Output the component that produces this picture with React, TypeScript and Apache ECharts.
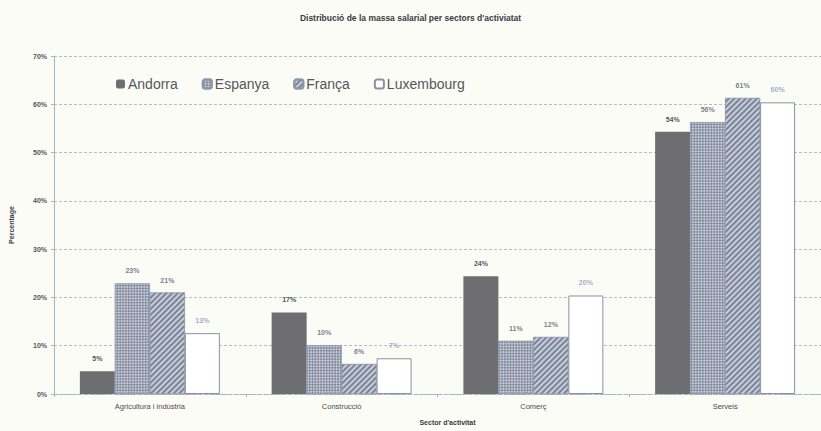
import React, { useEffect, useRef } from "react";
import * as echarts from "echarts";

const categories = ["Agricultura i indústria", "Construcció", "Comerç", "Serveis"];
const andorra = [4.7, 16.9, 24.4, 54.3];
const espanya = [22.9, 10.1, 11.0, 56.3];
const franca = [21.0, 6.2, 11.8, 61.3];
const luxembourg = [12.6, 7.4, 20.4, 60.4];
const yTicks = { min: 0, max: 70, interval: 10 };

export default function App() {
  const ref = useRef<HTMLDivElement>(null);
  useEffect(() => {
    if (!ref.current) return;
    const chart = echarts.init(ref.current, undefined, { renderer: "svg" });
    const labelBase = {
      show: true,
      position: "top" as const,
      distance: 9,
      fontSize: 7,
      fontWeight: "bold" as const,
      fontFamily: "Arial, Liberation Sans, sans-serif",
      formatter: (p: any) => Math.round(p.value) + "%",
    };
    chart.setOption({
      animation: false,
      backgroundColor: "#fcfcf6",
      title: {
        text: "Distribució de la massa salarial per sectors d'activiatat",
        left: "center",
        top: 8,
        textStyle: {
          fontSize: 8.5,
          fontWeight: "bold",
          color: "#3a3a3e",
          fontFamily: "Arial, Liberation Sans, sans-serif",
        },
      },
      legend: {
        left: 111,
        top: 72,
        itemWidth: 9,
        itemHeight: 9,
        itemGap: 24,
        textStyle: {
          fontSize: 14,
          color: "#55565c",
          fontFamily: "Arial, Liberation Sans, sans-serif",
          padding: [0, 0, 0, -2],
        },
        data: ["Andorra", "Espanya", "França", "Luxembourg"],
      },
      grid: { left: 53, top: 56, width: 780, height: 338 },
      xAxis: {
        type: "category",
        data: categories,
        name: "Sector d'activitat",
        nameLocation: "middle",
        nameGap: 25,
        nameTextStyle: {
          fontSize: 7,
          fontWeight: "bold",
          color: "#3a3a3e",
          fontFamily: "Arial, Liberation Sans, sans-serif",
          padding: [0, 0, 0, 20],
        },
        axisLine: { lineStyle: { color: "#a9b3c6", type: "dashed" } },
        axisTick: { show: true, length: 3, lineStyle: { color: "#a9b3c6" } },
        axisLabel: {
          fontSize: 7.5,
          color: "#4a4a50",
          margin: 8,
          fontFamily: "Arial, Liberation Sans, sans-serif",
        },
      },
      yAxis: {
        type: "value",
        min: yTicks.min,
        max: yTicks.max,
        interval: yTicks.interval,
        name: "Percentage",
        nameLocation: "middle",
        nameGap: 39,
        nameTextStyle: {
          fontSize: 7,
          fontWeight: "bold",
          color: "#3a3a3e",
          fontFamily: "Arial, Liberation Sans, sans-serif",
        },
        axisLine: { show: true, lineStyle: { color: "#a9b3c6" } },
        axisTick: { show: true, length: 3, lineStyle: { color: "#a9b3c6" } },
        axisLabel: {
          formatter: "{value}%",
          fontSize: 7,
          fontWeight: "bold",
          color: "#55565c",
          margin: 7,
          fontFamily: "Arial, Liberation Sans, sans-serif",
        },
        splitLine: { lineStyle: { color: "#b2bccd", type: [3, 2], width: 1 } },
      },
      series: [
        {
          name: "Andorra",
          type: "bar",
          data: andorra,
          barGap: "0%",
          barCategoryGap: "27%",
          itemStyle: { color: "#6d6d72" },
          label: { ...labelBase, color: "#55565c" },
        },
        {
          name: "Espanya",
          type: "bar",
          data: espanya,
          itemStyle: {
            color: "#c3c8d3",
            borderColor: "#8e96a8",
            borderWidth: 0.5,
            decal: {
              symbol: "rect",
              color: "#7f889c",
              dashArrayX: [[2, 2], [0, 2, 2, 0]],
              dashArrayY: [2, 0],
              symbolSize: 1,
              rotation: Math.PI / 4,
            },
          },
          label: { ...labelBase, color: "#7d8190" },
        },
        {
          name: "França",
          type: "bar",
          data: franca,
          itemStyle: {
            color: "#c8cdd8",
            borderColor: "#8e96a8",
            borderWidth: 0.5,
            decal: {
              symbol: "rect",
              color: "#7a849a",
              dashArrayX: [1, 0],
              dashArrayY: [1.5, 2],
              symbolSize: 1,
              rotation: -Math.PI / 4,
            },
          },
          label: { ...labelBase, color: "#7d8190" },
        },
        {
          name: "Luxembourg",
          type: "bar",
          data: luxembourg,
          itemStyle: { color: "#ffffff", borderColor: "#8a90a0", borderWidth: 1 },
          label: { ...labelBase, color: "#9fb0cc" },
        },
      ],
    });
    return () => chart.dispose();
  }, []);
  return <div ref={ref} style={{ width: 821, height: 431, position: "absolute", left: 0, top: 0 }} />;
}
